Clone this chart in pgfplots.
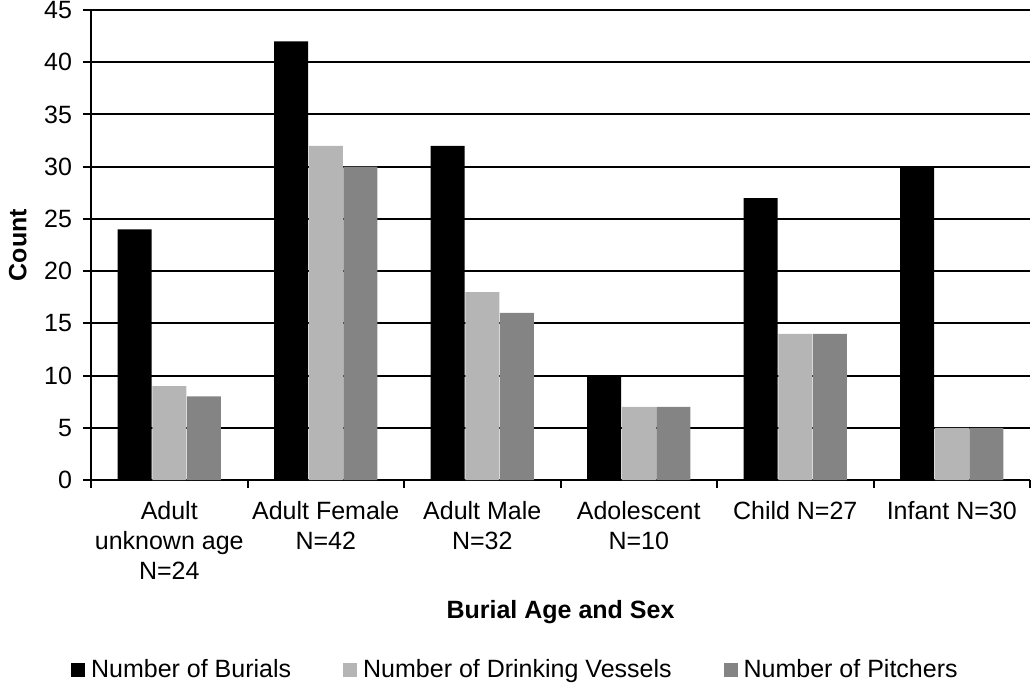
\documentclass[border=0pt]{standalone}
\usepackage{pgfplots}
\pgfplotsset{compat=1.18}
\usepackage{fontspec}
\setmainfont{Liberation Sans}
\definecolor{lightbar}{HTML}{B5B5B5}
\definecolor{darkbar}{HTML}{848484}
\begin{document}
\begin{tikzpicture}
\begin{axis}[
  scale only axis,
  width=469.5pt, height=235pt,
  ymin=0, ymax=45, ytick distance=5,
  xmin=-0.5, xmax=5.5,
  xtick={0,1,2,3,4,5},
  xticklabels={{Adult\\unknown age\\N=24},{Adult Female\\N=42},{Adult Male\\N=32},{Adolescent\\N=10},{Child N=27},{Infant N=30}},
  minor xtick={-0.5,0.5,1.5,2.5,3.5,4.5,5.5},
  major x tick style={draw=none},
  minor x tick style={black, line width=1pt},
  minor tick length=4pt,
  major tick length=4pt,
  tick align=outside,
  xtick pos=bottom, ytick pos=left,
  axis x line*=bottom, axis y line*=left,
  axis line style={black, line width=1pt, -},
  ytick style={black, line width=1pt},
  ymajorgrids,
  grid style={black, line width=1pt},
  ybar=0.3pt, bar width=17pt,
  /pgf/number format/assume math mode=true,
  tick label style={font=\fontsize{12.5}{15}\selectfont},
  x tick label style={align=center, yshift=-3pt},
  y tick label style={xshift=-2pt},
  xlabel={Burial Age and Sex},
  ylabel={Count},
  label style={font=\fontsize{12.5}{15}\selectfont\bfseries},
  xlabel style={at={(axis description cs:0.5,-0.281)}, anchor=center},
  ylabel style={at={(axis description cs:-0.078,0.5)}, anchor=center},
  legend columns=3,
  legend style={draw=none, at={(axis description cs:0.453,-0.404)}, anchor=center,
    font=\fontsize{12.5}{15}\selectfont,
    /tikz/every odd column/.append style={column sep=1pt},
    /tikz/every even column/.append style={column sep=24pt},
    inner sep=0pt},
  legend cell align=left,
  legend image code/.code={\fill[#1,draw=none] (0pt,-3.5pt) rectangle (7pt,3.5pt);},
]
\addplot[fill=black, draw=none] coordinates {(0,24) (1,42) (2,32) (3,10) (4,27) (5,30)};
\addplot[fill=lightbar, draw=none] coordinates {(0,9) (1,32) (2,18) (3,7) (4,14) (5,5)};
\addplot[fill=darkbar, draw=none] coordinates {(0,8) (1,30) (2,16) (3,7) (4,14) (5,5)};
\legend{Number of Burials, Number of Drinking Vessels, Number of Pitchers}
\coordinate (ll) at (rel axis cs:0,0);
\coordinate (ur) at (rel axis cs:1,1);
\end{axis}
\pgfresetboundingbox
\path[use as bounding box] ([xshift=-45.5pt,yshift=-105.5pt]ll) rectangle ([xshift=1.5pt,yshift=5pt]ur);
\end{tikzpicture}
\end{document}
